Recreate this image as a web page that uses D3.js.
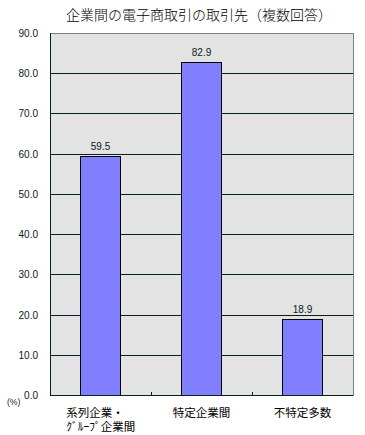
<!DOCTYPE html>
<html><head><meta charset="utf-8">
<script src="https://cdn.jsdelivr.net/npm/d3@7"></script>
<style>body{margin:0;background:#fff;}svg{display:block;}</style>
</head><body>
<script>
const title = "企業間の電子商取引の取引先（複数回答）";
const categories = [["系列企業・","ｸﾞﾙｰﾌﾟ企業間"],["特定企業間"],["不特定多数"]];
const values = [59.5, 82.9, 18.9];
const yTicks = [0,10,20,30,40,50,60,70,80,90];
const unitLabel = "(%)";

(function(){
const W = 365, H = 435;
const pL = 50, pR = 353, pT = 33, pB = 395;
const svg = d3.select("body").append("svg").attr("width", W).attr("height", H);

const x = d3.scaleBand().domain(d3.range(categories.length)).range([pL, pR]).paddingInner(0.6).paddingOuter(0.3);
const xc = d3.scaleBand().domain(d3.range(categories.length)).range([pL, pR]);
const y = d3.scaleLinear().domain([0, 90]).range([pB, pT]);

const jp = "'Noto Sans CJK JP', sans-serif";
const num = "'Liberation Sans', Arial, sans-serif";

svg.append("text").attr("x", 199).attr("y", 20).attr("text-anchor", "middle")
  .attr("font-family", jp).attr("font-size", 14).attr("font-weight", 300).attr("fill", "#000").text(title);

svg.append("rect").attr("x", pL+0.5).attr("y", pT+0.5).attr("width", pR-pL).attr("height", pB-pT)
  .attr("fill", "#e3e3e3").attr("stroke", "#808080").attr("stroke-width", 1);

svg.append("g").selectAll("line").data(yTicks.filter(d => d>0 && d<90)).join("line")
  .attr("x1", pL).attr("x2", pR).attr("y1", d => Math.round(y(d))+0.5).attr("y2", d => Math.round(y(d))+0.5)
  .attr("stroke", "#002222").attr("stroke-width", 1);

svg.append("g").selectAll("rect").data(values).join("rect")
  .attr("x", (d,i) => Math.round(x(i))+0.5).attr("width", Math.round(x.bandwidth()))
  .attr("y", d => Math.round(y(d))+0.5).attr("height", d => Math.round(pB - y(d)))
  .attr("fill", "#8080ff").attr("stroke", "#000").attr("stroke-width", 1);

svg.append("g").selectAll("text").data(values).join("text")
  .attr("x", (d,i) => x(i) + x.bandwidth()/2).attr("y", d => y(d) - 6)
  .attr("text-anchor", "middle").attr("font-family", num).attr("font-size", 10).attr("fill", "#0a2020")
  .text(d => d.toFixed(1));

svg.append("line").attr("x1", pL+0.5).attr("x2", pL+0.5).attr("y1", pT).attr("y2", pB)
  .attr("stroke", "#002222");
svg.append("line").attr("x1", pL).attr("x2", pR).attr("y1", pB+0.5).attr("y2", pB+0.5)
  .attr("stroke", "#002222");
svg.append("g").selectAll("line").data(d3.range(1, categories.length)).join("line")
  .attr("x1", i => Math.round(xc(i))+0.5).attr("x2", i => Math.round(xc(i))+0.5)
  .attr("y1", pB-3).attr("y2", pB).attr("stroke", "#002222");

svg.append("g").selectAll("text").data(yTicks).join("text")
  .attr("x", 38).attr("y", d => y(d) + 4).attr("text-anchor", "end")
  .attr("font-family", num).attr("font-size", 10).attr("fill", "#0a2020")
  .text(d => d.toFixed(1));

svg.append("text").attr("x", 7).attr("y", 405).attr("font-family", num).attr("font-size", 8.5).attr("fill", "#0a2020").text(unitLabel);

const cat = svg.append("g").selectAll("text").data(categories).join("text")
  .attr("font-family", jp).attr("font-size", 11.5).attr("fill", "#000");
cat.each(function(lines, i){
  const t = d3.select(this);
  lines.forEach((l, j) => {
    t.append("tspan").attr("x", lines.length > 1 ? x(i) - 14 : xc(i) + xc.bandwidth()/2)
      .attr("text-anchor", lines.length > 1 ? "start" : "middle")
      .attr("y", 417 + j*13.5).text(l);
  });
});
})();
</script>
</body></html>
